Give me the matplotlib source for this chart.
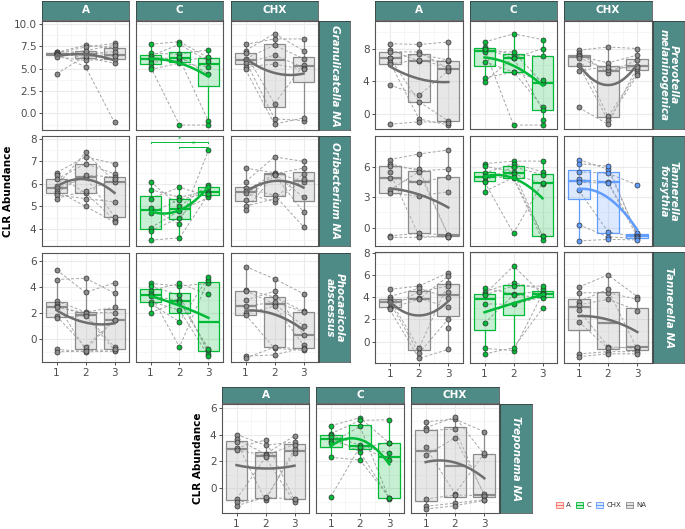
import numpy as np
import matplotlib
matplotlib.use("Agg")
import matplotlib.pyplot as plt
from matplotlib.colors import to_rgba
from matplotlib.lines import Line2D
from matplotlib.patches import Patch

nan = np.nan

timepoints = [1, 2, 3]
groups = ["A", "C", "CHX"]

# each list: [time 1, time 2, time 3], position i = same subject
gran_A = [[6.9, 6.8, 6.75, 6.7, 6.6, 6.55, 6.5, 6.3, 4.4],
          [6.8, 7.6, 6.2, 7.4, 5.2, 6.6, 7.0, 5.9, 6.4],
          [6.5, 7.3, 5.6, 7.8, -1.0, 6.9, 7.6, 6.1, 6.4]]
gran_C = [[7.7, 6.7, 6.4, 6.2, 6.0, 5.6, 5.2, 4.9],
          [8.0, 6.6, 7.7, 6.1, 5.8, 6.3, -1.3, 5.6],
          [6.2, 7.1, 5.8, -0.9, 6.3, 4.4, -1.3, 5.2]]
gran_CHX = [[7.7, 7.0, 6.7, 6.1, 5.9, 5.6, 5.2, 4.9],
            [8.3, 8.9, 1.1, 7.6, -0.6, 6.5, 5.5, -1.2],
            [8.3, 7.0, 5.4, 6.1, -0.8, 5.1, 4.9, -0.5]]

orib_A = [[6.5, 6.4, 6.2, 5.9, 5.8, 5.7, 5.6, 5.5, 5.35],
          [7.2, 5.6, 6.9, 7.4, 6.3, 5.0, 6.4, 5.35, 5.7],
          [6.9, 4.4, 6.45, 6.1, 4.55, 4.3, 6.3, 5.2, 6.2]]
orib_C = [[6.1, 5.75, 5.35, 4.95, 4.7, 4.05, 3.9, 3.5],
          [5.0, 5.4, 5.85, 4.2, 5.3, 4.8, 4.5, 3.6],
          [5.95, 5.7, 5.45, 7.5, 5.6, 5.4, 5.85, 5.55]]
orib_CHX = [[6.7, 6.1, 5.8, 5.7, 5.6, 5.3, 5.0, 4.85],
            [6.5, 7.2, 5.5, 6.45, 5.2, 6.45, 5.35, 6.4],
            [6.1, 7.0, 4.1, 6.7, 6.2, 5.4, 6.45, 4.75]]

phoc_A = [[5.35, 4.6, 2.95, 2.75, 2.55, 2.45, 1.8, 1.65, -0.77, -0.97],
          [3.6, 4.7, 2.1, -0.8, 1.9, 2.05, -0.6, 1.8, -0.97, -0.9],
          [4.35, 3.55, 2.45, 1.5, -0.6, 2.05, 1.5, -0.85, -0.92, -0.77]]
phoc_C = [[4.3, 4.1, 3.75, 3.45, 3.3, 2.9, 2.75, 2.05],
          [4.1, 3.4, 4.3, -0.6, 3.0, 2.25, 1.35, 2.9],
          [4.3, -1.1, 3.45, 4.6, -0.85, -1.3, 4.8, -0.72]]
phoc_CHX = [[5.6, 3.8, 3.75, 3.0, 2.55, 2.0, 1.9, -1.3, -1.45],
            [4.65, 3.25, 2.7, 3.7, 2.85, 2.55, -0.7, -1.2, -0.6],
            [3.5, 2.15, 1.05, 0.3, 2.1, -0.45, -0.85, -0.65, -0.75]]

prev_A = [[8.6, 7.8, 7.6, 6.9, 6.8, 6.4, 6.1, 3.55, -1.25],
          [8.5, 6.5, 7.6, 1.5, 7.3, -0.6, 6.65, 2.3, -0.95],
          [8.8, 6.5, 5.55, -0.85, 6.6, -1.35, 5.7, 5.3, -1.05]]
prev_C = [[8.8, 8.2, 8.0, 7.6, 6.4, 4.45, 3.95, 7.9, nan],
          [9.8, 7.2, 6.8, 7.6, 5.15, 5.1, 6.9, -1.35, nan],
          [9.1, 7.1, 8.0, 3.8, 0.9, 4.15, 0.5, -1.35, -0.75]]
prev_CHX = [[7.8, 7.5, 7.2, 7.1, 6.9, 6.0, 5.3, 0.8],
            [8.2, 5.05, -0.3, 6.25, 5.35, -0.75, 5.8, -1.25],
            [8.0, 6.6, 5.05, 7.2, 5.9, 4.75, 5.55, 5.8]]

tfor_A = [[6.7, 6.3, 6.05, 5.5, 4.85, 3.7, 3.4, -0.8, -0.95],
          [7.25, 5.6, 5.75, -0.8, 4.5, 5.5, 3.1, -0.55, -0.95],
          [7.65, 5.75, -0.75, -0.95, 5.0, -0.8, 3.55, -0.72, -0.88]]
tfor_C = [[6.3, 6.05, 5.35, 5.05, 5.0, 4.6, 4.5, 3.55],
          [6.55, 5.5, 6.3, 4.85, 5.3, 6.0, -0.55, 4.95],
          [6.55, -0.8, 5.5, -1.2, 4.3, 5.2, 4.4, -0.8]]
tfor_CHX = [[6.7, 6.3, 5.5, 4.75, 4.45, 3.7, 0.3, -1.3],
            [5.75, 6.05, 5.35, 4.5, 4.4, -0.4, -0.9, -1.15],
            [-0.65, -0.75, 4.2, -0.5, -0.85, -0.95, -1.05, -1.2]]

tann_A = [[4.7, 4.05, 3.8, 3.65, 3.55, 3.1, 3.0, 2.9, nan, nan],
          [5.0, 4.8, -0.6, 3.9, -1.05, 4.5, 3.8, -1.5, nan, nan],
          [6.2, 3.95, 5.25, 3.1, 2.05, 5.0, 5.9, -0.7, 4.5, 1.2]]
tann_C = [[4.8, 4.5, 4.25, 4.2, 3.4, 1.65, -0.6, -1.1],
          [4.3, 5.3, 6.8, 5.0, 3.35, 4.2, -0.8, -0.55],
          [4.5, 4.7, 4.25, 5.0, 4.0, 3.95, 4.3, 3.0]]
tann_CHX = [[4.9, 4.4, 3.6, 3.3, 2.85, 1.8, -1.1, -1.35],
            [6.0, 4.4, 4.7, 3.8, -0.45, -0.6, -0.9, -1.1],
            [4.05, 3.8, -0.7, 2.8, -0.6, -0.45, -0.9, -1.1]]

trep_A = [[4.0, 3.65, 3.45, 3.0, 2.85, -0.8, -1.05, -1.3],
          [3.2, 2.55, -0.9, 3.6, 2.45, 2.3, -0.75, -0.67],
          [3.45, 3.9, 2.95, -0.9, 3.25, -1.05, 2.65, -0.8]]
trep_C = [[4.65, 4.05, 3.95, 3.8, 3.5, 3.35, 2.3, -0.65],
          [5.25, 5.05, 3.2, 2.7, 3.0, 4.6, 2.1, 3.1],
          [3.35, 5.1, 2.6, -0.75, 3.4, -0.8, -0.7, 2.1]]
trep_CHX = [[4.95, 4.5, 4.3, 3.05, 2.45, -0.8, -1.35, -1.55],
            [5.15, 5.3, 4.4, -0.4, 3.75, -0.5, -1.1, -1.3],
            [4.2, 2.5, -0.6, 2.6, -0.45, -0.55, -0.85, -0.9]]

species_labels = ["Granulicatella NA", "Oribacterium NA", "Phocaeicola\nabscessus",
                  "Prevotella\nmelaninogenica", "Tannerella\nforsythia", "Tannerella NA",
                  "Treponema NA"]
species_data = [[gran_A, gran_C, gran_CHX], [orib_A, orib_C, orib_CHX],
                [phoc_A, phoc_C, phoc_CHX], [prev_A, prev_C, prev_CHX],
                [tfor_A, tfor_C, tfor_CHX], [tann_A, tann_C, tann_CHX],
                [trep_A, trep_C, trep_CHX]]
# significant group per panel ("NA" = not significant)
species_sig = [["NA", "C", "NA"], ["NA", "C", "NA"], ["NA", "C", "NA"],
               ["NA", "C", "NA"], ["NA", "C", "CHX"], ["NA", "C", "NA"],
               ["NA", "C", "NA"]]
species_yticks = [[0, 2.5, 5, 7.5, 10], [4, 5, 6, 7, 8], [0, 2, 4, 6], [0, 4, 8],
                  [0, 3, 6], [0, 2, 4, 6, 8], [0, 2, 4, 6]]
species_ylim = [(-1.85, 10.3), (3.24, 8.13), (-1.75, 6.64), (-1.83, 11.37),
                (-1.8, 9.02), (-1.92, 8.06), (-1.84, 6.27)]

# Oribacterium C comparisons
sig_pairs = [(1, 3), (2, 3)]
sig_labels = ["*", "*"]
sig_y = [7.88, 7.66]

legend_labels = ["A", "C", "CHX", "NA"]
colours = {"A": "#F8766D", "C": "#00BA38", "CHX": "#619CFF", "NA": "#8C8C8C"}
smooth_colours = {"A": "#F8766D", "C": "#00BA38", "CHX": "#619CFF", "NA": "#6E6E6E"}
STRIP = "#4E8B87"

W, H = 685, 529
fig = plt.figure(figsize=(W / 100, H / 100), dpi=100)


def add_px(x0, y0, x1, y1):
    return fig.add_axes([x0 / W, 1 - y1 / H, (x1 - x0) / W, (y1 - y0) / H])


def minor_breaks(major, lo, hi):
    step = major[1] - major[0]
    ext = np.concatenate([[major[0] - step], major, [major[-1] + step]])
    mids = (ext[:-1] + ext[1:]) / 2
    return mids[(mids > lo) & (mids < hi)]


def strip(box, text, rotation=0, style="normal", size=7.5):
    ax = add_px(*box)
    ax.set_facecolor(STRIP)
    ax.set_xticks([])
    ax.set_yticks([])
    for s in ax.spines.values():
        s.set_color("#333333")
        s.set_linewidth(0.5)
    ax.text(0.5, 0.5, text, ha="center", va="center", color="white", fontweight="bold",
            fontsize=size, rotation=rotation, style=style, linespacing=0.95,
            transform=ax.transAxes)


def draw_panel(ax, data, sig, yticks, ylim, show_y, show_x):
    col = colours[sig]
    ax.set_xlim(0.5, 3.5)
    ax.set_ylim(*ylim)
    ax.set_xticks(timepoints)
    ax.set_xticks([1.5, 2.5], minor=True)
    ax.set_yticks(yticks)
    if isinstance(yticks[1], float):
        ax.set_yticklabels([f"{t:.1f}" for t in yticks])
    ax.set_yticks(minor_breaks(yticks, *ylim), minor=True)
    ax.grid(which="major", color="#EBEBEB", lw=0.8)
    ax.grid(which="minor", color="#F3F3F3", lw=0.5)
    ax.set_axisbelow(True)
    ax.tick_params(which="minor", length=0)
    ax.tick_params(which="major", length=2.5, width=0.6, color="#333333",
                   labelsize=7.5, labelcolor="#4D4D4D", pad=1.5)
    if not show_y:
        ax.tick_params(axis="y", length=0, labelleft=False)
    if not show_x:
        ax.tick_params(axis="x", length=0, labelbottom=False)
    for s in ax.spines.values():
        s.set_color("#555555")
        s.set_linewidth(0.8)

    arr = np.array(data, dtype=float)
    # paired subject lines
    for i in range(arr.shape[1]):
        ax.plot(timepoints, arr[:, i], ls=(0, (3, 2)), color="#A6A6A6", lw=0.7, zorder=2)

    vals = [row[~np.isnan(row)] for row in arr]
    ax.boxplot(vals, positions=timepoints, widths=0.75, patch_artist=True,
               showfliers=False, showcaps=False, manage_ticks=False,
               boxprops=dict(facecolor=to_rgba(col, 0.22) if sig != "NA" else to_rgba("#BDBDBD", 0.35),
                             edgecolor=col, lw=0.9),
               whiskerprops=dict(color=col, lw=0.9),
               medianprops=dict(color=col, lw=1.6), zorder=3)

    for t, v in zip(timepoints, vals):
        ax.scatter(np.full(len(v), t), v, s=13, facecolor=col, edgecolor="#333333",
                   lw=0.5, zorder=5)

    xs = np.concatenate([np.full(len(v), t) for t, v in zip(timepoints, vals)])
    ys = np.concatenate(vals)
    coef = np.polyfit(xs, ys, 2)
    xx = np.linspace(1, 3, 60)
    ax.plot(xx, np.polyval(coef, xx), color=smooth_colours[sig], lw=1.8, zorder=6)


def draw_block(cols, rows, sp_strip_x, strip_y, sp_index, show_x_last=True):
    for c, (x0, x1) in enumerate(cols):
        strip((x0, strip_y[0], x1, strip_y[1]), groups[c], size=7.5)
    for r, (y0, y1) in enumerate(rows):
        k = sp_index[r]
        for c, (x0, x1) in enumerate(cols):
            ax = add_px(x0, y0, x1, y1)
            draw_panel(ax, species_data[k][c], species_sig[k][c], species_yticks[k],
                       species_ylim[k], show_y=(c == 0), show_x=(r == len(rows) - 1))
            if k == 1 and c == 1:
                for (a, b), lab, yy in zip(sig_pairs, sig_labels, sig_y):
                    ax.plot([a, a, b, b], [yy - 0.08, yy, yy, yy - 0.08], color=colours["C"],
                            lw=0.7, zorder=7)
                    ax.text((a + b) / 2, yy - 0.02, lab, ha="center", va="bottom",
                            color=colours["C"], fontsize=5)
        strip((sp_strip_x[0], y0, sp_strip_x[1], y1), species_labels[k], rotation=-90,
              style="italic", size=7.5)


draw_block([(42, 129), (136, 223), (231, 318)], [(21, 130), (136, 246), (253, 362)],
           (319, 350), (1, 19.5), [0, 1, 2])
draw_block([(375, 463), (470, 557), (564, 652)], [(21, 129), (136, 246), (252, 363)],
           (653, 684), (1, 19.5), [3, 4, 5])
draw_block([(222, 309), (316, 404), (411, 499)], [(404, 513)],
           (500, 532), (387, 403), [6])

fig.text(8 / W, 1 - 191 / H, "CLR Abundance", rotation=90, ha="center", va="center",
         fontweight="bold", fontsize=7.5)
fig.text(198 / W, 1 - 458 / H, "CLR Abundance", rotation=90, ha="center", va="center",
         fontweight="bold", fontsize=7.5)

handles = [(Patch(facecolor=to_rgba(colours[g], 0.25), edgecolor=colours[g], lw=0.6),
            Line2D([], [], color=colours[g], lw=0.7)) for g in legend_labels]
fig.legend(handles, legend_labels, loc="center", bbox_to_anchor=(601 / W, 1 - 505 / H),
           ncol=4, frameon=False, fontsize=5, handlelength=1.1, handleheight=0.9,
           columnspacing=0.7, handletextpad=0.4, labelcolor="#333333")

fig.savefig("out.png", dpi=100)
